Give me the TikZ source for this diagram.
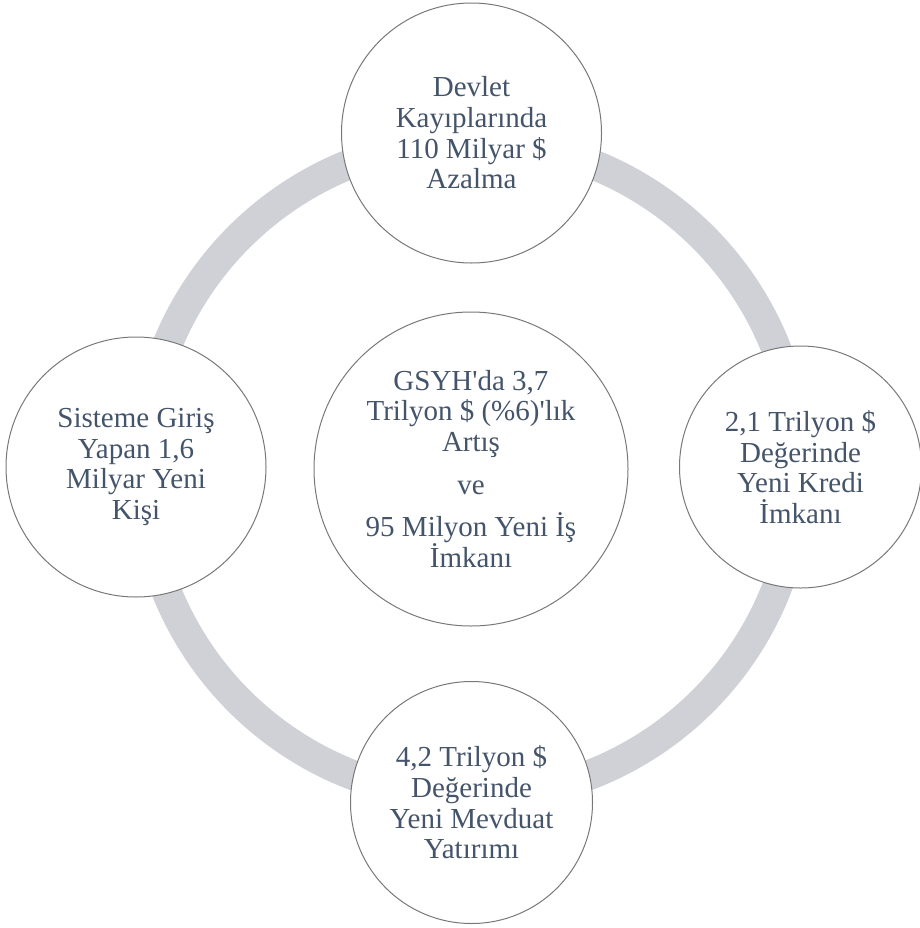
\documentclass[tikz,border=0pt]{standalone}
\usepackage{fontspec}
\setmainfont{Liberation Serif}[Ligatures=TeXOff]
\definecolor{yazi}{HTML}{44546A}
\definecolor{halka}{RGB}{208,209,214}
\definecolor{cizgi}{RGB}{120,120,120}
\tikzset{
  daire/.style={circle, draw=cizgi, line width=0.75pt, fill=white, inner sep=0pt,
    align=center, text=yazi, font=\fontsize{21.75pt}{23pt}\selectfont},
}

\begin{document}
\begin{tikzpicture}[x=0.75pt,y=-0.75pt]
     \useasboundingbox (0,0) rectangle (920,928);
     \coordinate (merkez) at (471,469);
     \draw[halka, line width=22.5pt] (merkez) circle (246pt);
     \node[daire, minimum size=235.5pt] (gsyh) at (merkez)
          {GSYH'da 3,7\\Trilyon \$ (\%6)'lık\\Artış\\[9pt]ve\\[9pt]95 Milyon Yeni İş\\İmkanı};
     \node[daire, minimum size=195pt] (devlet) at (471.5,133)
          {Devlet\\Kayıplarında\\110 Milyar \$\\Azalma};
     \node[daire, minimum size=195pt] (kisi) at (136,467)
          {Sisteme Giriş\\Yapan 1,6\\Milyar Yeni\\Kişi};
     \node[daire, minimum size=181.5pt] (kredi) at (800.5,467)
          {2,1 Trilyon \$\\Değerinde\\Yeni Kredi\\İmkanı};
     \node[daire, minimum size=181.5pt] (mevduat) at (471.5,802.5)
          {4,2 Trilyon \$\\Değerinde\\Yeni Mevduat\\Yatırımı};
\end{tikzpicture}
\end{document}
